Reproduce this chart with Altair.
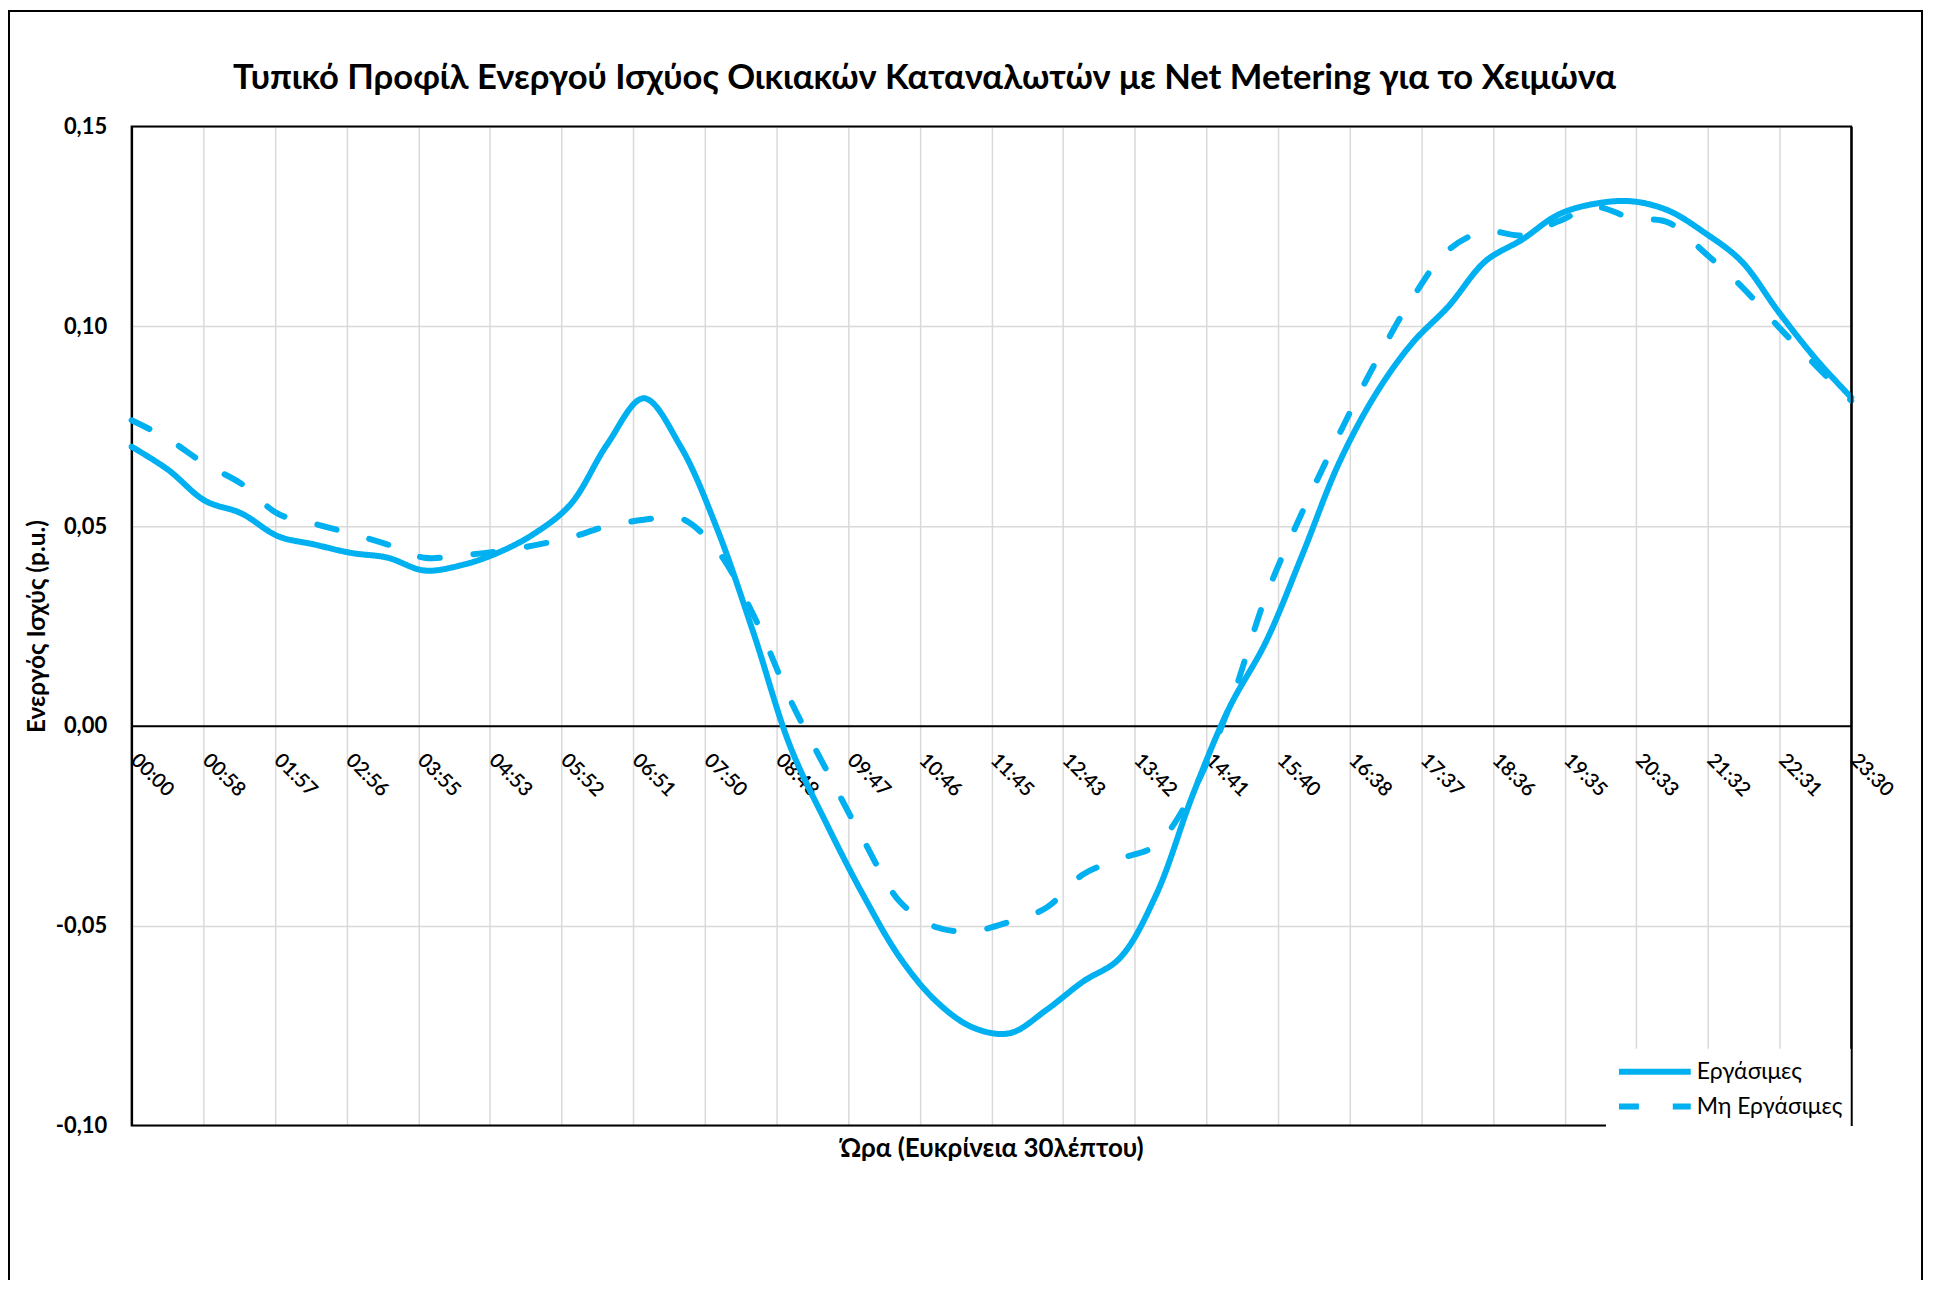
import altair as alt
import pandas as pd

# ---------------- data ----------------
SERIES = ["Εργάσιμες", "Μη Εργάσιμες"]

TIME_MIN = [0, 30, 60, 90, 120, 150, 180, 210, 240, 270, 300, 330,
            360, 390, 420, 450, 480, 510, 540, 570, 600, 630, 660, 690,
            720, 750, 780, 810, 840, 870, 900, 930, 960, 990, 1020, 1050,
            1080, 1110, 1140, 1170, 1200, 1230, 1260, 1290, 1320, 1350, 1380, 1410]

WORKDAYS = [0.0699, 0.0641, 0.0564, 0.0532, 0.0475, 0.0454, 0.0433, 0.0421,
            0.0389, 0.0402, 0.0433, 0.0481, 0.0555, 0.0705, 0.0820, 0.0700,
            0.0494, 0.0232, -0.0051, -0.0246, -0.0424, -0.0580, -0.0690, -0.0755,
            -0.0769, -0.0711, -0.0640, -0.0582, -0.0423, -0.0173, 0.0045, 0.0210,
            0.0429, 0.0658, 0.0830, 0.0958, 0.1051, 0.1163, 0.1217, 0.1280,
            0.1307, 0.1313, 0.1290, 0.1234, 0.1163, 0.1038, 0.0922, 0.0822]

NONWORK = [0.0765, 0.0718, 0.0656, 0.0606, 0.0531, 0.0506, 0.0481, 0.0454,
           0.0421, 0.0427, 0.0437, 0.0452, 0.0472, 0.0500, 0.0516, 0.0520,
           0.0440, 0.0277, 0.0066, -0.0112, -0.0285, -0.0440, -0.0504, -0.0513,
           -0.0490, -0.0455, -0.0372, -0.0333, -0.0298, -0.0165, 0.0048, 0.0324,
           0.0536, 0.0729, 0.0910, 0.1070, 0.1192, 0.1238, 0.1228, 0.1263,
           0.1299, 0.1271, 0.1260, 0.1184, 0.1100, 0.1000, 0.0905, 0.0814]

TICK_MIN = [0, 58.75, 117.5, 176.25, 235, 293.75, 352.5, 411.25, 470, 528.75,
            587.5, 646.25, 705, 763.75, 822.5, 881.25, 940, 998.75, 1057.5,
            1116.25, 1175, 1233.75, 1292.5, 1351.25, 1410]
TICK_LABELS = ["00:00", "00:58", "01:57", "02:56", "03:55", "04:53", "05:52",
               "06:51", "07:50", "08:48", "09:47", "10:46", "11:45", "12:43",
               "13:42", "14:41", "15:40", "16:38", "17:37", "18:36", "19:35",
               "20:33", "21:32", "22:31", "23:30"]

Y_TICKS = [-0.10, -0.05, 0.0, 0.05, 0.10, 0.15]

TITLE = "Τυπικό Προφίλ Ενεργού Ισχύος Οικιακών Καταναλωτών με Net Metering για το Χειμώνα"
X_TITLE = "Ώρα (Ευκρίνεια 30λέπτου)"
Y_TITLE = "Ενεργός Ισχύς (p.u.)"

# ---------------- styling ----------------
FONT = "Lato"
BLUE = "#00B0F0"
GRID = "#D9D9D9"
W, H = 1725, 1002

df = pd.DataFrame({
    "t": TIME_MIN + TIME_MIN,
    "p": WORKDAYS + NONWORK,
    "s": [SERIES[0]] * len(TIME_MIN) + [SERIES[1]] * len(TIME_MIN),
})

x_label_expr = "[" + ",".join("'%s'" % l for l in TICK_LABELS) + "][indexof(" + \
    "[" + ",".join(str(v) for v in TICK_MIN) + "], datum.value)]"
y_label_expr = "replace(replace(format(datum.value, '.2f'), '.', ','), '\u2212', '-')"

Y_SCALE = alt.Scale(domain=[-0.10, 0.15], nice=False, zero=False)

legend = alt.Legend(
    title=None, orient="none", legendX=1479, legendY=925,
    symbolType="stroke", symbolSize=5184, symbolStrokeWidth=6,
    clipHeight=26, rowPadding=9, padding=10, fillColor="white",
    labelFont=FONT, labelFontSize=23, labelColor="black", labelOffset=3,
    labelLimit=400,
)

lines = alt.Chart(df).mark_line(
    interpolate="catmull-rom", strokeWidth=6, strokeCap="round", strokeJoin="round"
).encode(
    x=alt.X(
        "t:Q",
        scale=alt.Scale(domain=[0, 1410], nice=False, zero=False),
        axis=alt.Axis(
            values=TICK_MIN, labelExpr=x_label_expr,
            labelAngle=45, labelAlign="left", labelBaseline="top",
            labelPadding=24, labelOffset=9, labelFont=FONT, labelFontSize=20,
            labelFontWeight=600,
            labelColor="black", labelOverlap=False, labelFlush=False,
            ticks=False, domainColor="black", domainWidth=2,
            grid=True, gridColor=GRID, gridWidth=1.5,
            offset=-401,
            title=X_TITLE, titleY=424, titleBaseline="middle",
            titleFont=FONT, titleFontSize=26, titleFontWeight="bold",
            titleColor="black",
        ),
    ),
    y=alt.Y(
        "p:Q",
        scale=Y_SCALE,
        axis=alt.Axis(
            values=Y_TICKS, labelExpr=y_label_expr,
            labelFont=FONT, labelFontSize=22, labelFontWeight="bold",
            labelColor="black", labelPadding=25, ticks=False,
            domainColor="black", domainWidth=2,
            grid=True, gridColor=GRID, gridWidth=1.5,
            title=Y_TITLE, titleX=-94, titleBaseline="middle",
            titleFont=FONT, titleFontSize=24.5, titleFontWeight="bold",
            titleColor="black",
        ),
    ),
    color=alt.Color("s:N", scale=alt.Scale(domain=SERIES, range=[BLUE, BLUE]),
                    sort=SERIES, legend=legend),
    strokeDash=alt.StrokeDash("s:N", scale=alt.Scale(domain=SERIES, range=[[1, 0], [20, 34]]),
                              sort=SERIES, legend=legend),
)

one_row = pd.DataFrame({"k": [0]})

# outer chart-area frame
frame = alt.Chart(one_row).mark_rect(
    filled=False, stroke="black", strokeWidth=2
).encode(
    x=alt.value(-123), x2=alt.value(1796), y=alt.value(-116), y2=alt.value(1400)
)

# plot-area border
plot_border = alt.Chart(one_row).mark_rect(
    filled=False, stroke="black", strokeWidth=2
).encode(
    x=alt.value(0), x2=alt.value(W), y=alt.value(0), y2=alt.value(H)
)

# right edge of the plot area, drawn as an axis line above the legend box
right_edge = alt.Chart(pd.DataFrame({"p": [0.0]})).mark_rule(opacity=0).encode(
    y=alt.Y("p:Q", scale=Y_SCALE, axis=alt.Axis(
        orient="right", labels=False, ticks=False, grid=False, title=None,
        domainColor="black", domainWidth=2, zindex=1,
    )),
)

chart = alt.layer(frame, plot_border, lines, right_edge).resolve_axis(
    y="independent"
).properties(
    width=W, height=H,
    padding={"left": 124, "top": 117, "right": 75, "bottom": 153},
    autosize=alt.AutoSizeParams(type="none"),
    title=alt.TitleParams(
        text=TITLE, font=FONT, fontSize=34.7, fontWeight="bold", color="black",
        anchor="middle", dx=-67, offset=-114, baseline="alphabetic",
    ),
    background="white",
).configure_view(
    stroke="transparent"
)

chart.save("out.html", embed_options={"renderer": "svg", "actions": False})
